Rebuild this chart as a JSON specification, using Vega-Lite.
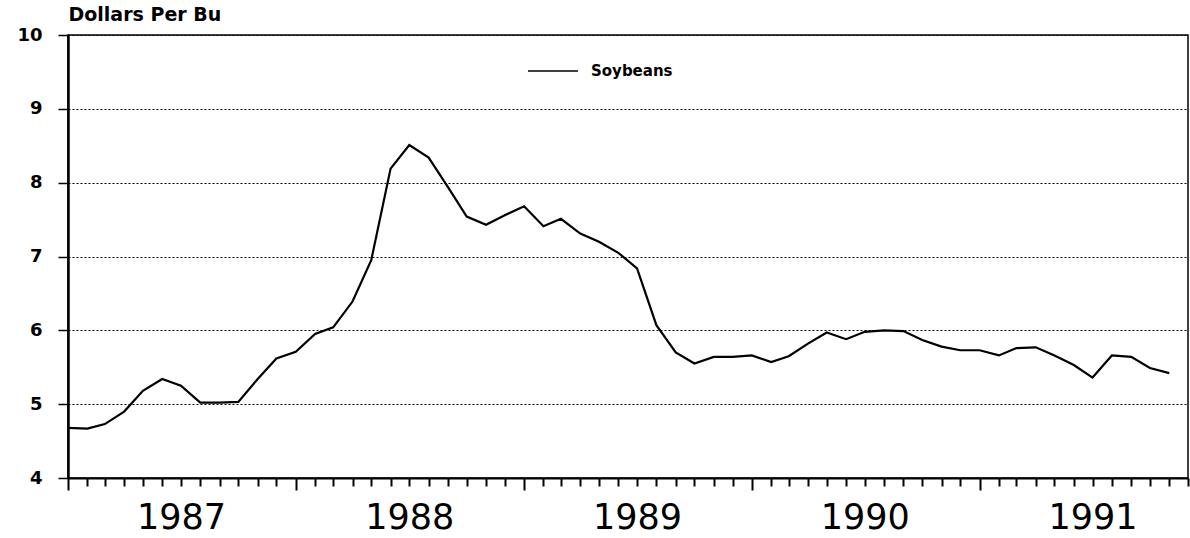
{
  "$schema": "https://vega.github.io/schema/vega-lite/v6.json",
  "width": 1120,
  "height": 443,
  "autosize": {"type": "none"},
  "padding": {"left": 68, "top": 35, "right": 2, "bottom": 60},
  "background": "white",
  "config": {
    "view": {"stroke": "black", "strokeWidth": 1.5},
    "font": "DejaVu Sans"
  },
  "data": {
    "values": [
      {"date": "1987/01/01", "price": 4.68, "series": "Soybeans"},
      {"date": "1987/02/01", "price": 4.67, "series": "Soybeans"},
      {"date": "1987/03/01", "price": 4.73, "series": "Soybeans"},
      {"date": "1987/04/01", "price": 4.90, "series": "Soybeans"},
      {"date": "1987/05/01", "price": 5.18, "series": "Soybeans"},
      {"date": "1987/06/01", "price": 5.34, "series": "Soybeans"},
      {"date": "1987/07/01", "price": 5.25, "series": "Soybeans"},
      {"date": "1987/08/01", "price": 5.02, "series": "Soybeans"},
      {"date": "1987/09/01", "price": 5.02, "series": "Soybeans"},
      {"date": "1987/10/01", "price": 5.03, "series": "Soybeans"},
      {"date": "1987/11/01", "price": 5.34, "series": "Soybeans"},
      {"date": "1987/12/01", "price": 5.62, "series": "Soybeans"},
      {"date": "1988/01/01", "price": 5.71, "series": "Soybeans"},
      {"date": "1988/02/01", "price": 5.95, "series": "Soybeans"},
      {"date": "1988/03/01", "price": 6.04, "series": "Soybeans"},
      {"date": "1988/04/01", "price": 6.39, "series": "Soybeans"},
      {"date": "1988/05/01", "price": 6.95, "series": "Soybeans"},
      {"date": "1988/06/01", "price": 8.19, "series": "Soybeans"},
      {"date": "1988/07/01", "price": 8.51, "series": "Soybeans"},
      {"date": "1988/08/01", "price": 8.34, "series": "Soybeans"},
      {"date": "1988/09/01", "price": 7.94, "series": "Soybeans"},
      {"date": "1988/10/01", "price": 7.54, "series": "Soybeans"},
      {"date": "1988/11/01", "price": 7.43, "series": "Soybeans"},
      {"date": "1988/12/01", "price": 7.56, "series": "Soybeans"},
      {"date": "1989/01/01", "price": 7.68, "series": "Soybeans"},
      {"date": "1989/02/01", "price": 7.41, "series": "Soybeans"},
      {"date": "1989/03/01", "price": 7.51, "series": "Soybeans"},
      {"date": "1989/04/01", "price": 7.31, "series": "Soybeans"},
      {"date": "1989/05/01", "price": 7.20, "series": "Soybeans"},
      {"date": "1989/06/01", "price": 7.05, "series": "Soybeans"},
      {"date": "1989/07/01", "price": 6.84, "series": "Soybeans"},
      {"date": "1989/08/01", "price": 6.07, "series": "Soybeans"},
      {"date": "1989/09/01", "price": 5.70, "series": "Soybeans"},
      {"date": "1989/10/01", "price": 5.55, "series": "Soybeans"},
      {"date": "1989/11/01", "price": 5.64, "series": "Soybeans"},
      {"date": "1989/12/01", "price": 5.64, "series": "Soybeans"},
      {"date": "1990/01/01", "price": 5.66, "series": "Soybeans"},
      {"date": "1990/02/01", "price": 5.57, "series": "Soybeans"},
      {"date": "1990/03/01", "price": 5.65, "series": "Soybeans"},
      {"date": "1990/04/01", "price": 5.82, "series": "Soybeans"},
      {"date": "1990/05/01", "price": 5.97, "series": "Soybeans"},
      {"date": "1990/06/01", "price": 5.88, "series": "Soybeans"},
      {"date": "1990/07/01", "price": 5.98, "series": "Soybeans"},
      {"date": "1990/08/01", "price": 6.00, "series": "Soybeans"},
      {"date": "1990/09/01", "price": 5.99, "series": "Soybeans"},
      {"date": "1990/10/01", "price": 5.87, "series": "Soybeans"},
      {"date": "1990/11/01", "price": 5.78, "series": "Soybeans"},
      {"date": "1990/12/01", "price": 5.73, "series": "Soybeans"},
      {"date": "1991/01/01", "price": 5.73, "series": "Soybeans"},
      {"date": "1991/02/01", "price": 5.66, "series": "Soybeans"},
      {"date": "1991/03/01", "price": 5.76, "series": "Soybeans"},
      {"date": "1991/04/01", "price": 5.77, "series": "Soybeans"},
      {"date": "1991/05/01", "price": 5.66, "series": "Soybeans"},
      {"date": "1991/06/01", "price": 5.53, "series": "Soybeans"},
      {"date": "1991/07/01", "price": 5.36, "series": "Soybeans"},
      {"date": "1991/08/01", "price": 5.66, "series": "Soybeans"},
      {"date": "1991/09/01", "price": 5.64, "series": "Soybeans"},
      {"date": "1991/10/01", "price": 5.49, "series": "Soybeans"},
      {"date": "1991/11/01", "price": 5.42, "series": "Soybeans"}
    ]
  },
  "mark": {"type": "line", "strokeWidth": 2.2, "interpolate": "linear"},
  "encoding": {
    "x": {
      "field": "date",
      "type": "temporal",
      "scale": {"domain": [{"year": 1987, "month": 1, "date": 1}, {"year": 1991, "month": 12, "date": 1}], "nice": false},
      "axis": {
        "title": null,
        "grid": false,
        "tickCount": {"interval": "month", "step": 1},
        "domainColor": "black",
        "domainWidth": 2,
        "tickColor": "black",
        "tickWidth": 2,
        "tickSize": {"condition": {"test": "month(datum.value) === 0", "value": 12}, "value": 8},
        "labelExpr": "month(datum.value) === 6 ? timeFormat(datum.value, '%Y') : ''",
        "labelOverlap": false,
        "labelBound": false,
        "labelFlush": false,
        "labelFont": "DejaVu Sans",
        "labelFontSize": 35,
        "labelColor": "black",
        "labelPadding": 14
      }
    },
    "y": {
      "field": "price",
      "type": "quantitative",
      "scale": {"domain": [4, 10], "nice": false, "zero": false},
      "axis": {
        "values": [4, 5, 6, 7, 8, 9, 10],
        "title": "Dollars Per Bu",
        "titleAngle": 0,
        "titleAlign": "left",
        "titleBaseline": "bottom",
        "titleX": 0,
        "titleY": -11,
        "titleFont": "DejaVu Sans",
        "titleFontSize": 19,
        "titleFontWeight": "bold",
        "titleColor": "black",
        "grid": true,
        "gridColor": "black",
        "gridDash": [2, 2],
        "gridWidth": 1,
        "domainColor": "black",
        "domainWidth": 2.5,
        "tickColor": "black",
        "tickWidth": 1.5,
        "tickSize": 10,
        "labelPadding": 16,
        "labelFont": "DejaVu Sans",
        "labelFontSize": 18,
        "labelFontWeight": "bold",
        "labelColor": "black"
      }
    },
    "color": {
      "field": "series",
      "type": "nominal",
      "scale": {"domain": ["Soybeans"], "range": ["black"]},
      "legend": {
        "title": null,
        "orient": "none",
        "legendX": 459,
        "legendY": 10,
        "symbolType": "stroke",
        "symbolSize": 2500,
        "symbolStrokeWidth": 1.5,
        "labelFont": "DejaVu Sans",
        "labelFontSize": 15,
        "labelFontWeight": "bold",
        "labelColor": "black",
        "labelOffset": 12
      }
    }
  }
}
